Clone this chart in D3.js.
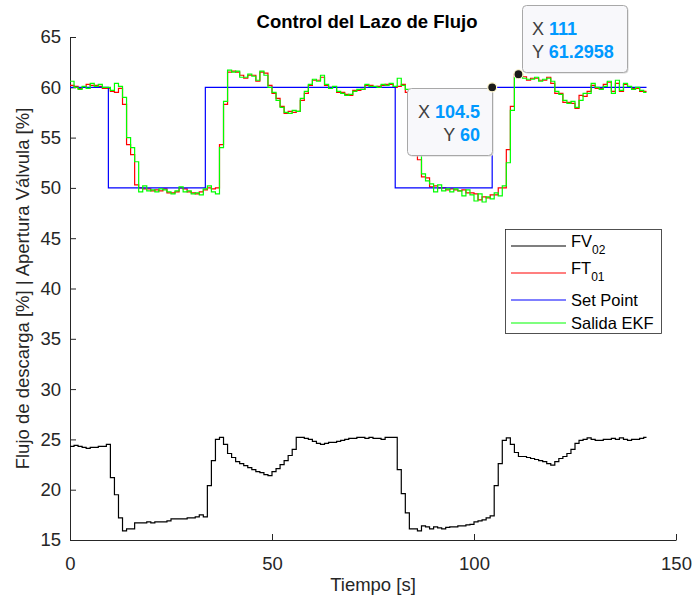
<!DOCTYPE html>
<html>
<head>
<meta charset="utf-8">
<script src="https://cdn.jsdelivr.net/npm/d3@7"></script>
<style>
  body { margin: 0; background: #fff; }
  svg { display: block; font-family: "Liberation Sans", Arial, sans-serif; }
</style>
</head>
<body>
<div id="chart"></div>
<script>
// muestras cada 1 s, de 0 a 142 s
const tiempo = d3.range(0, 143)
const tFinal = 142.7

const fv02 = [
  24.3, 24.4, 24.3, 24.2, 24.1, 24.2, 24.2, 24.3, 24.3, 24.5,
  21.2, 19.5, 17.2, 15.9, 16.1, 16.1, 16.7, 16.7, 16.7, 16.8,
  16.7, 16.8, 16.8, 16.8, 16.9, 17.1, 17.1, 17.1, 17.1, 17.2,
  17.2, 17.3, 17.5, 17.3, 20.4, 22.9, 25.0, 25.2, 24.5, 23.6,
  23.2, 22.8, 22.6, 22.4, 22.2, 22.0, 21.8, 21.7, 21.5, 21.4,
  21.8, 22.1, 22.5, 22.9, 23.4, 24.0, 25.2, 25.2, 25.1, 25.0,
  24.8, 24.6, 24.5, 24.6, 24.7, 24.7, 24.8, 24.9, 25.0, 25.1,
  25.1, 25.2, 25.2, 25.1, 25.2, 25.1, 25.1, 25.0, 25.2, 25.2,
  25.2, 22.0, 19.6, 17.7, 16.1, 16.1, 15.9, 16.4, 16.3, 16.1,
  16.3, 16.2, 16.1, 16.25, 16.3, 16.3, 16.4, 16.4, 16.5, 16.55,
  16.8, 16.9, 17.0, 17.2, 17.4, 20.4, 22.6, 24.9, 25.15, 24.5,
  23.7, 23.3, 23.3, 23.2, 23.1, 23.0, 22.9, 22.8, 22.6, 22.45,
  22.8, 23.1, 23.3, 23.6, 24.0, 24.6, 24.9, 25.0, 25.15, 25.0,
  24.9, 24.9, 25.0, 25.0, 25.1, 25.0, 25.15, 25.0, 24.9, 25.0,
  25.0, 25.1, 25.2
]

const ft01 = [
  60.2, 60.1, 59.9, 60.0, 60.3, 60.2, 60.2, 60.1, 59.9, 59.9,
  59.6, 59.5, 59.9, 58.3, 54.3, 53.3, 50.3, 50.0, 49.9, 49.9,
  49.7, 49.8, 49.7, 49.9, 49.5, 49.5, 49.6, 50.0, 49.9, 49.6,
  49.5, 49.4, 49.6, 49.8, 50.0, 49.9, 50.0, 54.3, 58.3, 61.5,
  61.6, 61.5, 61.2, 60.9, 61.2, 61.2, 60.6, 61.5, 61.4, 60.2,
  59.4, 58.9, 58.1, 57.4, 57.6, 57.5, 57.6, 58.7, 59.4, 60.2,
  60.7, 60.7, 61.0, 60.2, 60.0, 60.0, 59.5, 59.5, 59.3, 59.2,
  59.7, 59.7, 59.8, 60.2, 60.2, 60.0, 60.1, 60.2, 60.3, 60.3,
  60.0, 60.1, 60.3, 59.5, 58.0, 55.5, 52.8, 51.1, 51.0, 50.1,
  50.2, 50.0, 50.0, 49.8, 49.9, 49.8, 49.7, 49.8, 49.5, 49.5,
  49.4, 48.8, 49.1, 49.0, 49.3, 49.3, 50.0, 50.0, 53.8, 58.1,
  61.3, 61.2958, 61.05, 60.7, 60.9, 60.9, 60.7, 60.7, 61.0, 60.4,
  59.4, 59.4, 58.5, 58.5, 58.4, 57.9, 59.2, 59.1, 59.6, 60.2,
  59.9, 59.9, 60.3, 60.5, 59.6, 60.4, 59.6, 60.3, 60.0, 59.9,
  59.9, 59.6, 59.6
]

const salidaEKF = [
  60.6, 60.0, 59.8, 60.1, 59.9, 60.4, 60.1, 60.3, 60.0, 60.0,
  59.7, 60.4, 60.1, 59.0, 55.0, 54.0, 52.6, 49.6, 50.2, 49.7,
  49.8, 49.6, 49.9, 49.8, 49.6, 49.4, 49.7, 50.1, 49.6, 49.7,
  49.4, 49.5, 49.3, 49.9, 50.2, 49.6, 49.4, 54.0, 58.6, 61.7,
  61.5, 61.6, 61.0, 61.0, 61.3, 61.1, 60.7, 61.6, 61.2, 60.0,
  59.5, 58.7, 58.0, 57.5, 57.4, 57.7, 57.6, 58.9, 59.6, 60.3,
  60.8, 60.6, 61.2, 60.3, 59.9, 60.1, 59.6, 59.4, 59.2, 59.3,
  59.6, 59.8, 59.8, 60.3, 60.1, 60.1, 60.0, 60.3, 60.2, 60.4,
  60.1, 60.9, 60.2, 59.8, 58.5, 56.0, 53.3, 51.4, 50.7, 50.4,
  49.6, 50.3, 49.7, 49.9, 49.6, 49.9, 49.7, 49.2, 49.8, 49.3,
  48.7, 49.4, 48.6, 49.1, 48.9, 49.5, 49.2, 50.2, 52.5, 57.7,
  61.0, 61.4, 60.9, 60.8, 60.8, 61.0, 60.6, 60.8, 60.9, 60.6,
  59.6, 59.3, 58.7, 58.4, 58.6, 58.0, 58.7, 59.4, 59.4, 60.4,
  60.0, 59.8, 60.1, 60.6, 59.4, 60.7, 59.7, 60.4, 60.1, 59.8,
  60.0, 59.7, 59.5
]

// set point: escalones
const spTiempo = [0, 9.5, 33.5, 80.5, 104.5, tFinal]
const spValor = [60, 50, 60, 50, 60, 60]

const xTicks = [0, 50, 100, 150]
const yTicks = [15, 20, 25, 30, 35, 40, 45, 50, 55, 60, 65]

const seriesNames = ["FV", "FT", "Set Point", "Salida EKF"]
const seriesSubs = ["02", "01", "", ""]
const seriesColors = ["#000000", "#ff0000", "#0000ff", "#00ff00"]

// datatips: [x, y]
const tips = [[104.5, 60], [111, 61.2958]]

const width = 694, height = 599
const margin = {top: 37, right: 18, bottom: 59, left: 70}

const svg = d3.select("#chart").append("svg")
  .attr("width", width)
  .attr("height", height)

const x = d3.scaleLinear().domain([0, 150]).range([margin.left, width - margin.right])
const y = d3.scaleLinear().domain([15, 65]).range([height - margin.bottom, margin.top])

// ejes (ticks hacia dentro, como en MATLAB)
const xAxis = svg.append("g")
  .attr("transform", "translate(0," + y(15) + ")")
  .call(d3.axisBottom(x).tickValues(xTicks).tickSizeInner(-6).tickSizeOuter(0).tickPadding(17))
const yAxis = svg.append("g")
  .attr("transform", "translate(" + x(0) + ",0)")
  .call(d3.axisLeft(y).tickValues(yTicks).tickSizeInner(-6).tickSizeOuter(0).tickPadding(9))

;[xAxis, yAxis].forEach(g => {
  g.select(".domain").attr("stroke", "#262626")
  g.selectAll(".tick line").attr("stroke", "#262626")
  g.selectAll(".tick text")
    .attr("fill", "#262626")
    .style("font-size", "18.5px")
    .style("font-family", "'Liberation Sans', Arial, sans-serif")
})

// titulo y etiquetas
svg.append("text")
  .attr("x", 367).attr("y", 28)
  .attr("text-anchor", "middle")
  .style("font-size", "18.5px").style("font-weight", "bold")
  .text("Control del Lazo de Flujo")

svg.append("text")
  .attr("x", (x(0) + x(150)) / 2).attr("y", 591)
  .attr("text-anchor", "middle")
  .attr("fill", "#262626")
  .style("font-size", "18.5px")
  .text("Tiempo [s]")

svg.append("text")
  .attr("transform", "translate(29," + (y(15) + y(65)) / 2 + ") rotate(-90)")
  .attr("text-anchor", "middle")
  .attr("fill", "#262626")
  .style("font-size", "18.5px")
  .text("Flujo de descarga [%] | Apertura Válvula [%]")

// lineas
const line = d3.line()
  .x(d => x(d[0]))
  .y(d => y(d[1]))
  .curve(d3.curveStepAfter)

function puntos(vals) {
  const pts = tiempo.map((t, i) => [t, vals[i]])
  pts.push([tFinal, vals[vals.length - 1]])
  return pts
}

const allSeries = [
  puntos(fv02),
  puntos(ft01),
  spTiempo.map((t, i) => [t, spValor[i]]),
  puntos(salidaEKF)
]

svg.selectAll(".serie")
  .data(allSeries)
  .enter()
  .append("path")
    .attr("class", "serie")
    .attr("d", line)
    .attr("fill", "none")
    .attr("stroke", (d, i) => seriesColors[i])
    .attr("stroke-width", 1.2)

// leyenda
const leg = svg.append("g")
leg.append("rect")
  .attr("x", 505.5).attr("y", 229.5)
  .attr("width", 156).attr("height", 104)
  .attr("fill", "#fff")
  .attr("stroke", "#262626")
  .attr("stroke-width", 0.8)

const legY = [246, 273, 300, 323]
seriesNames.forEach((name, i) => {
  leg.append("line")
    .attr("x1", 511).attr("x2", 566)
    .attr("y1", legY[i]).attr("y2", legY[i])
    .attr("stroke", seriesColors[i])
    .attr("stroke-width", 1.2)
  const t = leg.append("text")
    .attr("x", 571)
    .attr("y", legY[i] + (seriesSubs[i] ? 1 : 6))
    .attr("fill", "#000")
    .style("font-size", "16.5px")
  t.append("tspan").text(name)
  if (seriesSubs[i]) {
    t.append("tspan")
      .attr("dy", 7)
      .style("font-size", "12px")
      .text(seriesSubs[i])
  }
})

// datatips
const tipBoxes = [
  {x: 407, y: 88, w: 85, h: 67, anchor: "end", tx: 480, ty: [118, 141]},
  {x: 522, y: 5, w: 105, h: 67, anchor: "start", tx: 532, ty: [35, 58]}
]

tips.forEach((d, i) => {
  const b = tipBoxes[i]
  const g = svg.append("g")
  g.append("rect")
    .attr("x", b.x + 1.5).attr("y", b.y + 1.5)
    .attr("width", b.w).attr("height", b.h)
    .attr("rx", 4)
    .attr("fill", "#d6d6d6")
  g.append("rect")
    .attr("x", b.x + 0.5).attr("y", b.y + 0.5)
    .attr("width", b.w).attr("height", b.h)
    .attr("rx", 4)
    .attr("fill", "#f8f8fb")
    .attr("stroke", "#a8a8a8")
  const labels = [["X", d[0]], ["Y", d[1]]]
  labels.forEach((l, j) => {
    const t = g.append("text")
      .attr("x", b.tx).attr("y", b.ty[j])
      .attr("text-anchor", b.anchor)
      .style("font-size", "18px")
    t.append("tspan").attr("fill", "#404040").text(l[0] + " ")
    t.append("tspan").attr("fill", "#0099ff").style("font-weight", "bold").text(l[1])
  })
  svg.append("circle")
    .attr("cx", x(d[0])).attr("cy", y(d[1]))
    .attr("r", 4.5)
    .attr("fill", "#1a1a1a")
    .attr("stroke", "#fff8d0")
    .attr("stroke-width", 1.2)
})
</script>
</body>
</html>
